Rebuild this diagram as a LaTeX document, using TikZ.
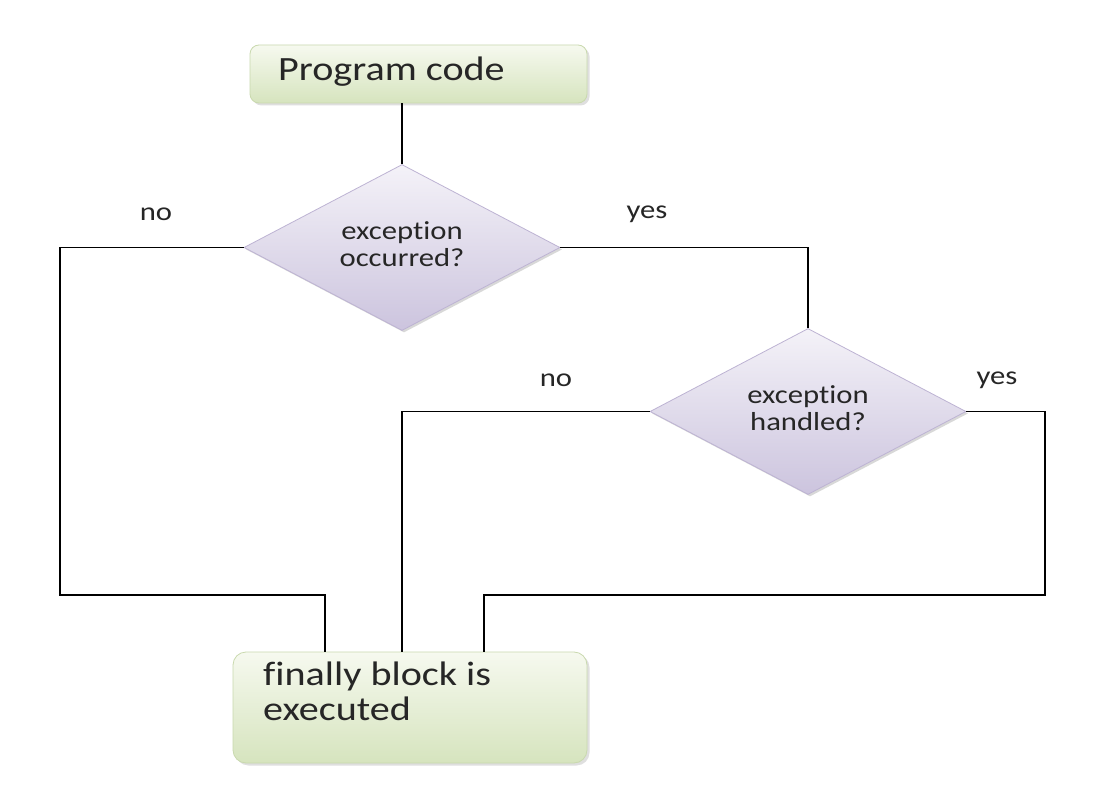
\documentclass[tikz,border=0pt]{standalone}
\usepackage{fontspec}
\setmainfont{Carlito}[FakeStretch=1.18,Ligatures=NoCommon]
\usetikzlibrary{shapes.geometric,shadows}
\definecolor{boxtop}{HTML}{F6F9EF}
\definecolor{boxbot}{HTML}{D6E4BE}
\definecolor{boxline}{HTML}{C9D9AE}
\definecolor{dtop}{HTML}{F4F2F8}
\definecolor{dbot}{HTML}{CCC4DE}
\definecolor{dline}{HTML}{BDB3D3}
\definecolor{txt}{HTML}{262626}
\tikzset{
  greenbox/.style={rectangle, rounded corners=9pt, draw=boxline, line width=0.8pt,
    top color=boxtop, bottom color=boxbot, text=txt, inner sep=0pt,
    drop shadow={shadow xshift=2.5pt, shadow yshift=-2.5pt, opacity=0.25}},
  decision/.style={diamond, draw=dline, line width=0.8pt, top color=dtop, bottom color=dbot,
    text=txt, align=center, inner sep=0pt, aspect=2, minimum width=316pt, minimum height=166pt,
    font=\fontsize{26}{27}\selectfont,
    drop shadow={shadow xshift=2pt, shadow yshift=-2pt, opacity=0.3}},
  lbl/.style={text=txt, font=\fontsize{26}{27}\selectfont, inner sep=0pt},
  conn/.style={line width=1.7pt, black}
}
\newcommand{\dtext}[2]{\raisebox{11pt}{\begin{tabular}{@{}c@{}}#1\\#2\end{tabular}}}
\begin{document}
\begin{tikzpicture}[x=1pt,y=-1pt]
\useasboundingbox[fill=white] (0,0) rectangle (1106,810);
% boxes
\node[greenbox, minimum width=337pt, minimum height=58pt] (prog) at (418.5,74) {};
\node[anchor=west, text=txt, font=\fontsize{34}{35}\selectfont, inner sep=0pt] (progtxt) at (278,72) {Program code};
\node[greenbox, rounded corners=13pt, minimum width=354pt, minimum height=111pt] (fin) at (410,707.5) {};
\node[anchor=north west, text=txt, align=left, font=\fontsize{34}{35}\selectfont, inner sep=0pt] (fintxt) at (263,662) {finally block is\\executed};
% decisions
\node[decision] (d1) at (402,247.5) {\dtext{exception}{occurred?}};
\node[decision] (d2) at (808,411.5) {\dtext{exception}{handled?}};
% connector endpoints
\coordinate (a1) at (325,652);
\coordinate (a2) at (402,652);
\coordinate (a3) at (484,652);
\coordinate (b1) at (60,595);
\coordinate (b2) at (1045,595);
% connectors
\draw[conn] (prog.south -| d1.north) -- (d1.north);
\draw[conn] (d1.west) -| (b1) -| (a1);
\draw[conn] (d1.east) -| (d2.north);
\draw[conn] (d2.west) -| (a2);
\draw[conn] (d2.east) -| (b2) -| (a3);
% labels
\node[lbl] (l1) at (156,214) {no};
\node[lbl] (l2) at (647,214) {yes};
\node[lbl] (l3) at (556,380) {no};
\node[lbl] (l4) at (997,380) {yes};
\end{tikzpicture}
\end{document}
